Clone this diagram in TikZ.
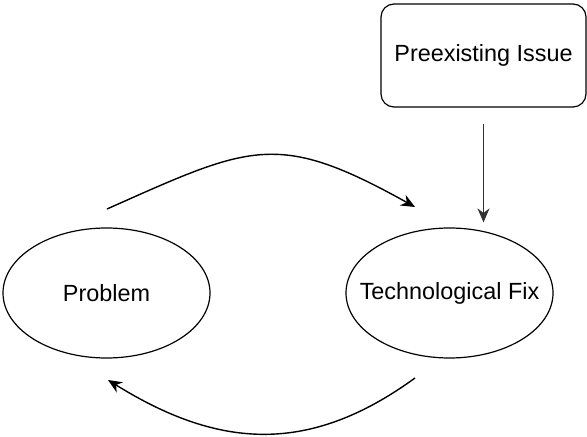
\documentclass[tikz,border=0pt]{standalone}
\usepackage{fontspec}
\setmainfont{Liberation Sans}
\usetikzlibrary{shapes.geometric,arrows.meta}

\begin{document}
\begin{tikzpicture}[x=0.5pt,y=-0.5pt,
    every node/.style={font=\fontsize{11.7}{14}\selectfont, line width=0.6pt},
    bubble/.style={draw, ellipse, minimum width=103.5pt, minimum height=65pt, inner xsep=-12pt, inner ysep=0pt},
    box/.style={draw, rounded corners=6.5pt, minimum width=102.5pt, minimum height=51.5pt},
    arr/.style={line width=0.7pt, -{Stealth[length=7pt,width=6pt]}}]
  \useasboundingbox (0,0) rectangle (587,437);
  \node[bubble] (prob) at (106.5,293) {Problem};
  \node[bubble] (fix) at (449.5,293) {Technological Fix};
  \node[box] (issue) at (483.5,55.5) {Preexisting Issue};
  \coordinate (loop1) at (107,209);
  \coordinate (loop2) at (415,207);
  \coordinate (loop3) at (415,378);
  \coordinate (loop4) at (108,380);
  \draw[arr, black!80, shorten <=8pt, shorten >=2.5pt] (issue) -- (issue |- fix.north);
  \draw[arr] (loop1) .. controls (251,145) and (277,130) .. (loop2);
  \draw[arr] (loop3) .. controls (309,455) and (219,449) .. (loop4);
\end{tikzpicture}
\end{document}
